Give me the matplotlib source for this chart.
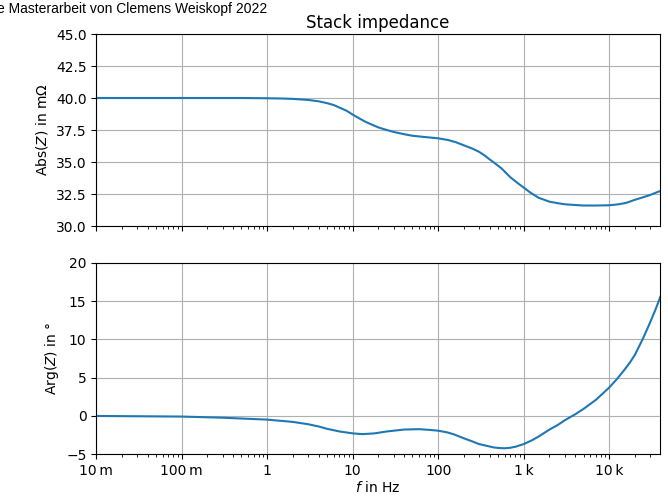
import numpy as np
import matplotlib
matplotlib.use("Agg")
from matplotlib import pyplot as plt
from matplotlib.ticker import EngFormatter

# values
freq_abs = [0.01, 0.1, 0.5, 1, 1.5, 2, 3, 4, 5, 6, 7, 8.5, 10, 12, 14, 17, 20, 25,
            30, 40, 50, 70, 100, 130, 160, 200, 250, 300, 350, 400, 470, 550, 630,
            700, 850, 1000, 1200, 1500, 2000, 2500, 3000, 4000, 5000, 7000, 10000,
            13000, 16000, 20000, 25000, 30000, 35000, 40000]
abs_z = [40.0, 40.0, 40.0, 39.98, 39.96, 39.93, 39.85, 39.74, 39.6, 39.45, 39.25,
         39.0, 38.7, 38.4, 38.15, 37.9, 37.7, 37.5, 37.35, 37.17, 37.05, 36.95,
         36.85, 36.72, 36.55, 36.3, 36.05, 35.8, 35.5, 35.2, 34.85, 34.5, 34.1,
         33.8, 33.35, 33.0, 32.6, 32.2, 31.9, 31.78, 31.7, 31.64, 31.6, 31.6,
         31.62, 31.7, 31.82, 32.05, 32.25, 32.42, 32.6, 32.75]

freq_arg = [0.01, 0.1, 0.3, 1, 2, 3, 4, 5, 7, 10, 13, 18, 25, 40, 60, 80, 100, 125,
            150, 200, 250, 300, 375, 450, 525, 600, 700, 800, 1000, 1250, 1500,
            2000, 2500, 3000, 4000, 5000, 7000, 10000, 12500, 15000, 17500, 20000,
            25000, 30000, 35000, 40000]
arg_z = [-0.02, -0.1, -0.25, -0.5, -0.8, -1.1, -1.4, -1.7, -2.05, -2.3, -2.4,
         -2.3, -2.05, -1.8, -1.75, -1.85, -1.95, -2.15, -2.4, -2.95, -3.35, -3.7,
         -3.95, -4.15, -4.22, -4.25, -4.18, -4.05, -3.7, -3.2, -2.7, -1.8, -1.2,
         -0.6, 0.2, 0.9, 2.1, 3.7, 4.9, 6.0, 7.0, 8.0, 10.2, 12.2, 14.0, 15.7]

fig = plt.figure(figsize=(6.68, 5.0), dpi=100)
ax1 = fig.add_axes([0.144, 0.548, 0.844, 0.384])
ax2 = fig.add_axes([0.144, 0.092, 0.844, 0.382], sharex=ax1)

ax1.plot(freq_abs, abs_z, color="C0", lw=1.5)
ax2.plot(freq_arg, arg_z, color="C0", lw=1.5)

ax1.set_xscale("log")
ax1.set_xlim(0.01, 3.92e4)
ax1.set_ylim(30, 45)
ax2.set_ylim(-5, 20)
ax1.set_yticks(np.arange(30, 45.1, 2.5))
ax2.set_yticks(np.arange(-5, 21, 5))
ax2.xaxis.set_major_formatter(EngFormatter(sep="\u2009"))
plt.setp(ax1.get_xticklabels(), visible=False)

for ax in (ax1, ax2):
    ax.grid(True, color="#b0b0b0", lw=0.8)

ax1.set_ylabel("Abs($Z$) in m\u03a9")
ax2.set_ylabel("Arg($Z$) in \u00b0")
ax2.set_xlabel("$f$ in Hz", labelpad=2)
ax1.set_title("Stack impedance", fontsize=12, pad=4)

fig.text(-0.004, 0.997, "e Masterarbeit von Clemens Weiskopf 2022",
         family="Liberation Sans", fontsize=10, ha="left", va="top")

fig.savefig("out.png", dpi=100)
